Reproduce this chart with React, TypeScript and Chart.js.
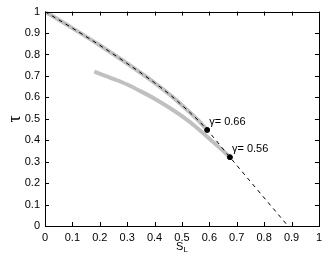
import React, { useEffect, useRef } from "react";
import { Chart, registerables } from "chart.js";

Chart.register(...registerables);

// Dashed curve (black, dashed)
const dashedS = [0, 0.1, 0.2, 0.3, 0.4, 0.46, 0.52, 0.56, 0.592, 0.675, 0.887];
const dashedTau = [1, 0.923, 0.843, 0.758, 0.668, 0.608, 0.54, 0.492, 0.448, 0.321, 0];
// Upper gray curve (overlapping dashed, to γ = 0.66)
const upperS = [0, 0.1, 0.2, 0.3, 0.4, 0.46, 0.52, 0.56, 0.592];
const upperTau = [1, 0.923, 0.843, 0.758, 0.668, 0.608, 0.54, 0.492, 0.448];
// Lower gray curve (to γ = 0.56)
const lowerS = [0.18, 0.25, 0.3, 0.35, 0.4, 0.45, 0.5, 0.55, 0.6, 0.64, 0.675];
const lowerTau = [0.72, 0.686, 0.66, 0.628, 0.594, 0.555, 0.512, 0.463, 0.407, 0.362, 0.321];
// Marked points
const markS = [0.592, 0.675];
const markTau = [0.448, 0.321];
const markLabels = ["γ= 0.66", "γ= 0.56"];
// Ticks
const xTickLabels = ["0", "0.1", "0.2", "0.3", "0.4", "0.5", "0.6", "0.7", "0.8", "0.9", "1"];
const yTickLabels = ["0", "0.1", "0.2", "0.3", "0.4", "0.5", "0.6", "0.7", "0.8", "0.9", "1"];
const xTitle = "S";
const xTitleSub = "L";
const yTitle = "τ";

const FONT = "'Liberation Sans', Arial, sans-serif";

const toPts = (xs: number[], ys: number[]) => xs.map((x, i) => ({ x, y: ys[i] }));

const framePlugin = {
  id: "frame",
  afterDraw(chart: any) {
    const { ctx, chartArea: a, scales } = chart;
    const xs = scales.x;
    const ys = scales.y;
    ctx.save();
    ctx.strokeStyle = "#000";
    ctx.lineWidth = 1;
    ctx.strokeRect(Math.round(a.left) + 0.5, Math.round(a.top) + 0.5, Math.round(a.right - a.left), Math.round(a.bottom - a.top));
    const tl = 4;
    ctx.beginPath();
    xTickLabels.forEach((_, i) => {
      const px = Math.round(xs.getPixelForValue(i / 10)) + 0.5;
      ctx.moveTo(px, a.bottom);
      ctx.lineTo(px, a.bottom - tl);
      ctx.moveTo(px, a.top);
      ctx.lineTo(px, a.top + tl);
    });
    yTickLabels.forEach((_, i) => {
      const py = Math.round(ys.getPixelForValue(i / 10)) + 0.5;
      ctx.moveTo(a.left, py);
      ctx.lineTo(a.left + tl, py);
      ctx.moveTo(a.right, py);
      ctx.lineTo(a.right - tl, py);
    });
    ctx.stroke();

    // annotations
    ctx.fillStyle = "#000";
    ctx.font = `11px ${FONT}`;
    ctx.textBaseline = "middle";
    ctx.textAlign = "left";
    markLabels.forEach((t, i) => {
      const px = xs.getPixelForValue(markS[i]);
      const py = ys.getPixelForValue(markTau[i]);
      ctx.fillText(t, px + 2, py - 8);
    });

    // x title with subscript
    const cx = (a.left + a.right) / 2;
    ctx.font = `11px ${FONT}`;
    ctx.textBaseline = "alphabetic";
    const w1 = ctx.measureText(xTitle).width;
    ctx.font = `8px ${FONT}`;
    const w2 = ctx.measureText(xTitleSub).width;
    const start = cx - (w1 + w2) / 2;
    ctx.font = `11px ${FONT}`;
    ctx.fillText(xTitle, start, 250);
    ctx.font = `8px ${FONT}`;
    ctx.fillText(xTitleSub, start + w1, 252);

    // y title
    ctx.save();
    ctx.translate(15, (a.top + a.bottom) / 2);
    ctx.rotate(-Math.PI / 2);
    ctx.font = `18px 'Liberation Serif', serif`;
    ctx.textAlign = "center";
    ctx.textBaseline = "middle";
    ctx.fillText(yTitle, 0, 0);
    ctx.restore();
    ctx.restore();
  },
};

export default function App() {
  const ref = useRef<HTMLCanvasElement | null>(null);
  useEffect(() => {
    if (!ref.current) return;
    const chart = new Chart(ref.current, {
      type: "scatter",
      data: {
        datasets: [
          {
            type: "scatter",
            data: toPts(markS, markTau),
            backgroundColor: "#000",
            borderColor: "#000",
            pointRadius: 2.5,
            order: 0,
          },
          {
            type: "line",
            data: toPts(dashedS, dashedTau),
            borderColor: "#000",
            borderWidth: 1,
            borderDash: [4, 4],
            pointRadius: 0,
            cubicInterpolationMode: "monotone",
            fill: false,
            order: 1,
          },
          {
            type: "line",
            data: toPts(upperS, upperTau),
            borderColor: "#c0c0c0",
            borderWidth: 4,
            pointRadius: 0,
            cubicInterpolationMode: "monotone",
            fill: false,
            order: 2,
          },
          {
            type: "line",
            data: toPts(lowerS, lowerTau),
            borderColor: "#c0c0c0",
            borderWidth: 4,
            pointRadius: 0,
            cubicInterpolationMode: "monotone",
            fill: false,
            order: 2,
          },
        ],
      } as any,
      options: {
        responsive: false,
        animation: false,
        layout: { padding: { top: 8, right: 5, left: 0, bottom: 0 } },
        plugins: { legend: { display: false }, tooltip: { enabled: false } },
        scales: {
          x: {
            type: "linear",
            min: 0,
            max: 1,
            grid: { display: false, drawTicks: false },
            border: { display: false },
            ticks: {
              stepSize: 0.1,
              padding: 5,
              color: "#000",
              font: { family: FONT, size: 11 },
              maxRotation: 0,
              callback: (v: any) => xTickLabels[Math.round(Number(v) * 10)] ?? "",
            },
            afterFit: (s: any) => {
              s.height = 28;
            },
          },
          y: {
            type: "linear",
            min: 0,
            max: 1,
            grid: { display: false, drawTicks: false },
            border: { display: false },
            ticks: {
              stepSize: 0.1,
              padding: 5,
              color: "#000",
              font: { family: FONT, size: 11 },
              callback: (v: any) => yTickLabels[Math.round(Number(v) * 10)] ?? "",
            },
            afterFit: (s: any) => {
              s.width = 45;
            },
          },
        },
      } as any,
      plugins: [framePlugin],
    });
    return () => chart.destroy();
  }, []);
  return (
    <div style={{ position: "fixed", left: 0, top: 0, width: 327, height: 254, background: "#fff" }}>
      <canvas ref={ref} width={327} height={254} style={{ display: "block" }} />
    </div>
  );
}
